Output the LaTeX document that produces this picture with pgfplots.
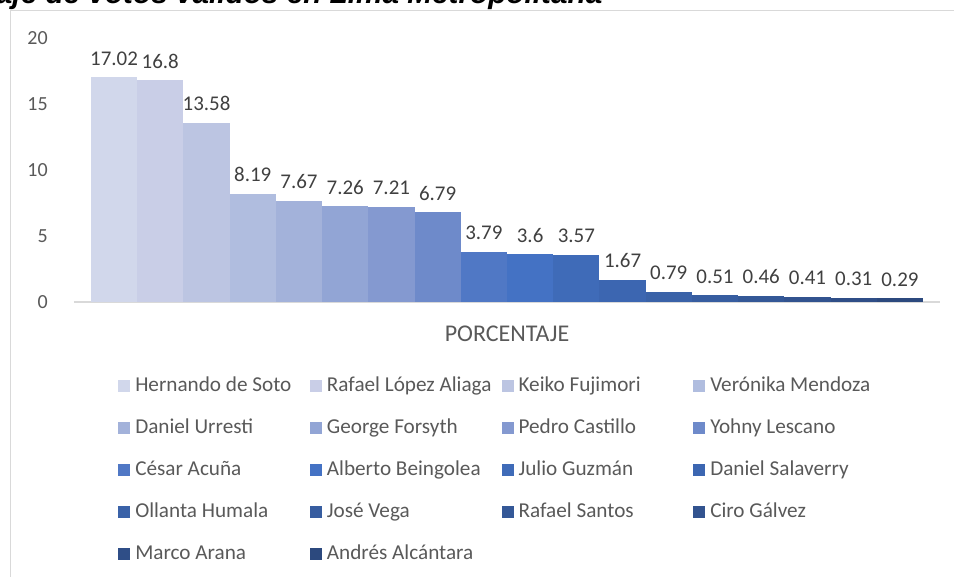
\documentclass[border=0pt]{standalone}
\usepackage{pgfplots}
\pgfplotsset{compat=1.18}
\usepackage{fontspec}
\setmainfont{Carlito}
\newfontfamily\titlefont{Liberation Sans}

\definecolor{c1}{HTML}{D1D7EB}
\definecolor{c2}{HTML}{C9CEE7}
\definecolor{c3}{HTML}{BCC5E2}
\definecolor{c4}{HTML}{B0BDDF}
\definecolor{c5}{HTML}{A3B2DA}
\definecolor{c6}{HTML}{92A5D5}
\definecolor{c7}{HTML}{8499D0}
\definecolor{c8}{HTML}{6E8ACA}
\definecolor{c9}{HTML}{5078C5}
\definecolor{c10}{HTML}{4472C4}
\definecolor{c11}{HTML}{3F6BB8}
\definecolor{c12}{HTML}{3C66B1}
\definecolor{c13}{HTML}{3A62A8}
\definecolor{c14}{HTML}{375DA0}
\definecolor{c15}{HTML}{345897}
\definecolor{c16}{HTML}{32538F}
\definecolor{c17}{HTML}{2F4E87}
\definecolor{c18}{HTML}{2C497E}
\definecolor{txt}{HTML}{595959}
\definecolor{lbl}{HTML}{404040}
\definecolor{frame}{HTML}{D9D9D9}

% fixed-width legend text so that the four columns are equally wide
\newcommand{\lb}[1]{\makebox[131pt][l]{#1}}

\begin{document}
\begin{tikzpicture}
% 1px = 0.75pt; origin at the left end of the x axis line
\path[use as bounding box, clip] (-55.5pt,-206.25pt) rectangle (660pt,226.5pt);
\draw[frame, line width=1.1pt] (-47.6pt,-215pt) -- (-47.6pt,218.6pt) -- (670pt,218.6pt);
\node[anchor=base west, inner sep=0pt, font=\titlefont\bfseries\itshape\fontsize{22.3pt}{24pt}\selectfont]
  at (-141.75pt,223.9pt) {Porcentaje de votos válidos en Lima Metropolitana};

\begin{axis}[
  at={(0pt,0pt)}, anchor=south west,
  scale only axis, width=649.5pt, height=198pt,
  ybar=0pt, bar width=34.67pt,
  xmin=-0.5, xmax=0.5, ymin=0, ymax=20,
  ytick={0,5,10,15,20},
  xtick={0}, xticklabels={PORCENTAJE},
  axis lines*=left,
  y axis line style={draw=none},
  x axis line style={draw=frame, line width=1.1pt},
  major tick length=0pt,
  /pgf/number format/assume math mode=true,
  tick label style={text=txt, font=\fontsize{15pt}{18pt}\selectfont},
  yticklabel style={anchor=east, inner sep=0pt, xshift=-19.5pt},
  xticklabel style={anchor=base, inner sep=0pt, yshift=-29.6pt, font=\fontsize{18pt}{21pt}\selectfont},
  nodes near coords,
  nodes near coords style={anchor=base, inner sep=0pt, yshift=9pt, text=lbl,
    font=\fontsize{15.7pt}{18pt}\selectfont},
  legend columns=4,
  legend cell align=left,
  legend image code/.code={\fill[#1] (0pt,-3.75pt) rectangle (9pt,5.25pt);},
  legend style={draw=none, fill=none, inner sep=0pt,
    at={(axis description cs:0.0508,-0.2822)}, anchor=north west,
    row sep=16.5pt, column sep=0pt,
    font=\fontsize{15.9pt}{18pt}\selectfont,
    nodes={inner sep=0pt, text height=11.25pt, text depth=3.75pt, text=txt},
    /tikz/every odd column/.append style={column sep=3.75pt}},
]
\addplot[fill=c1, draw=none] coordinates {(0,17.02)};
\addplot[fill=c2, draw=none] coordinates {(0,16.8)};
\addplot[fill=c3, draw=none] coordinates {(0,13.58)};
\addplot[fill=c4, draw=none] coordinates {(0,8.19)};
\addplot[fill=c5, draw=none] coordinates {(0,7.67)};
\addplot[fill=c6, draw=none] coordinates {(0,7.26)};
\addplot[fill=c7, draw=none] coordinates {(0,7.21)};
\addplot[fill=c8, draw=none] coordinates {(0,6.79)};
\addplot[fill=c9, draw=none] coordinates {(0,3.79)};
\addplot[fill=c10, draw=none] coordinates {(0,3.6)};
\addplot[fill=c11, draw=none] coordinates {(0,3.57)};
\addplot[fill=c12, draw=none] coordinates {(0,1.67)};
\addplot[fill=c13, draw=none] coordinates {(0,0.79)};
\addplot[fill=c14, draw=none] coordinates {(0,0.51)};
\addplot[fill=c15, draw=none] coordinates {(0,0.46)};
\addplot[fill=c16, draw=none] coordinates {(0,0.41)};
\addplot[fill=c17, draw=none] coordinates {(0,0.31)};
\addplot[fill=c18, draw=none] coordinates {(0,0.29)};
\legend{\lb{Hernando de Soto}, \lb{Rafael López Aliaga}, \lb{Keiko Fujimori}, \lb{Verónika Mendoza},
  \lb{Daniel Urresti}, \lb{George Forsyth}, \lb{Pedro Castillo}, \lb{Yohny Lescano},
  \lb{César Acuña}, \lb{Alberto Beingolea}, \lb{Julio Guzmán}, \lb{Daniel Salaverry},
  \lb{Ollanta Humala}, \lb{José Vega}, \lb{Rafael Santos}, \lb{Ciro Gálvez},
  \lb{Marco Arana}, \lb{Andrés Alcántara}}
\end{axis}
\end{tikzpicture}
\end{document}
